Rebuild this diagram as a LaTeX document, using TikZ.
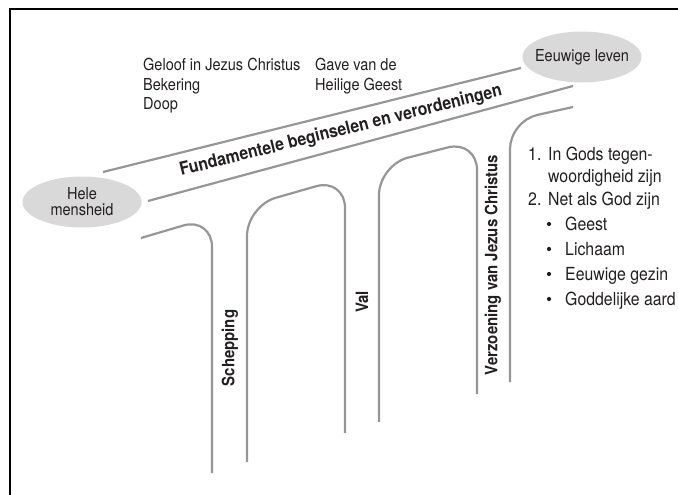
\documentclass[tikz,border=0pt]{standalone}
\usepackage{fontspec}
\setmainfont{TeX Gyre Heros}[FakeStretch=0.88]
\usetikzlibrary{shapes.geometric,positioning}

\definecolor{roadgray}{RGB}{150,150,152}
\definecolor{bubblegray}{RGB}{217,217,217}
\definecolor{inkgray}{RGB}{35,31,32}

\begin{document}
\begin{tikzpicture}[x=1pt, y=-1pt, text=inkgray,
    font=\fontsize{16.5}{19.5}\selectfont,
    road/.style={draw=roadgray, line width=2.2pt},
    pillar/.style={road, rounded corners=30pt},
    bubble/.style={ellipse, fill=bubblegray, minimum width=119pt, minimum height=51pt,
        inner sep=0pt, inner xsep=-12pt, align=center, font=\fontsize{16.5}{16}\selectfont},
    lbl/.style={anchor=base west, inner sep=0pt},
    item/.style={anchor=base west, inner sep=0pt, font=\fontsize{18}{20}\selectfont},
    dot/.style={circle, fill=inkgray, inner sep=0pt, minimum size=4.2pt},
    stage/.style={rotate=90, inner sep=0pt, font=\bfseries\fontsize{17}{17}\selectfont}]
    \useasboundingbox (0,0) rectangle (678,495);

    % Frame
    \draw [line width=1.4pt, black] (10,495) -- (10,9) -- (678,9);

    % Nodes {hele, eeuwig}
    \node [bubble] (hele)   at (82,202) {Hele\\mensheid};
    \node [bubble] (eeuwig) at (582,57) {Eeuwige leven};

    % Road ends
    \coordinate (hele-top)   at (103,172);
    \coordinate (eeuwig-top) at (521,68);
    \coordinate (hele-low)   at (148,201);
    \coordinate (road-end)   at (573,86);

    % Paths
    \draw [road] (hele-top) -- (eeuwig-top);
    \draw [road] (hele-low) -- (road-end);

    % Pillars
    \draw [pillar] (141,238) -- (212,217) -- (212,473);
    \draw [pillar] (247,462) -- (247,206) -- (345,178) -- (345,433);
    \draw [pillar] (379,422) -- (379,165) -- (477,140) -- (477,394);
    \draw [pillar, rounded corners=28pt] (510,382) -- (510,121) -- (573,107);

    % Road label
    \node [rotate=14, inner sep=0pt, font=\bfseries\fontsize{18}{18}\selectfont]
        (fundament) at (341,131) {Fundamentele beginselen en verordeningen};

    % Stages
    \node [stage] (schepping)  at (230,348) {Schepping};
    \node [stage] (val)        at (362,302) {Val};
    \node [stage] (verzoening) at (493,265) {Verzoening van Jezus Christus};

    % Principles
    \node [lbl] (geloof)   at (143,71)  {Geloof in Jezus Christus};
    \node [lbl] (bekering) at (143,91)  {Bekering};
    \node [lbl] (doop)     at (143,110) {Doop};
    \node [lbl] (gave)     at (315,71)  {Gave van de};
    \node [lbl] (geest)    at (315,91)  {Heilige Geest};

    % Goals
    \node [item] (een)       at (528,160) {1.};
    \node [item] (gods)      at (548,160) {In Gods tegen-};
    \node [item] (woordig)   at (548,182) {woordigheid zijn};
    \node [item] (twee)      at (528,205) {2.};
    \node [item] (netals)    at (548,205) {Net als God zijn};
    \node [dot]  (dot1)      at (549,224) {};
    \node [item] (geestpt)   at (565,230) {Geest};
    \node [dot]  (dot2)      at (549,249) {};
    \node [item] (lichaam)   at (565,255) {Lichaam};
    \node [dot]  (dot3)      at (549,274) {};
    \node [item] (gezin)     at (565,280) {Eeuwige gezin};
    \node [dot]  (dot4)      at (549,299) {};
    \node [item] (aard)      at (565,305) {Goddelijke aard};
\end{tikzpicture}
\end{document}
